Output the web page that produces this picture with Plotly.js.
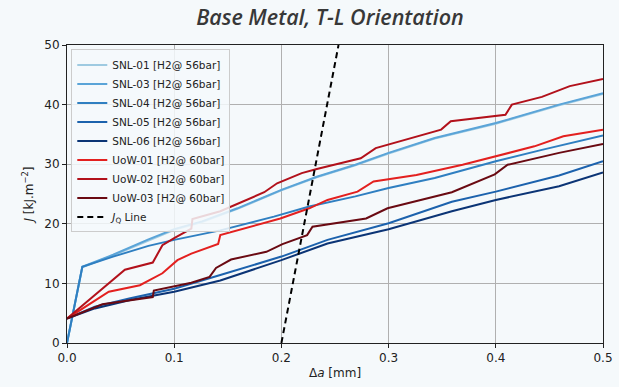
<!DOCTYPE html>
<html>
<head>
<meta charset="utf-8">
<script src="https://cdn.plot.ly/plotly-3.0.1.min.js"></script>
<style>html,body{margin:0;padding:0;background:#f5f9fb;}#chart{width:619px;height:387px;}</style>
</head>
<body>
<div id="chart"></div>
<script>
// Series data (Δa [mm], J [kJ/m^2])
const seriesNames = ["SNL-01 [H2@ 56bar]","SNL-03 [H2@ 56bar]","SNL-04 [H2@ 56bar]","SNL-05 [H2@ 56bar]","SNL-06 [H2@ 56bar]","UoW-01 [H2@ 60bar]","UoW-02 [H2@ 60bar]","UoW-03 [H2@ 60bar]"];
const seriesColors = ["#9ecae1","#5aa4d8","#2f7fc1","#1c62ad","#0b3475","#e3201f","#b2111b","#6a0a12"];

const snl01X = [0.0, 0.0143, 0.043, 0.076, 0.1, 0.126, 0.159, 0.2, 0.233, 0.269, 0.3, 0.343, 0.4, 0.459, 0.5];
const snl01Y = [0.0, 12.7, 14.7, 17.2, 19.0, 20.3, 22.5, 25.6, 27.8, 29.8, 31.8, 34.3, 36.8, 39.9, 41.8];
const snl03X = [0.0, 0.0143, 0.043, 0.076, 0.1, 0.126, 0.159, 0.2, 0.233, 0.269, 0.3, 0.343, 0.4, 0.459, 0.5];
const snl03Y = [0.0, 12.8, 14.8, 17.4, 19.1, 20.4, 22.6, 25.7, 27.9, 29.9, 31.9, 34.4, 36.9, 40.0, 41.9];
const snl04X = [0.0, 0.0143, 0.043, 0.076, 0.1, 0.143, 0.193, 0.226, 0.269, 0.3, 0.343, 0.4, 0.443, 0.5];
const snl04Y = [0.0, 12.8, 14.5, 16.3, 17.3, 18.9, 21.2, 22.9, 24.6, 26.0, 27.7, 30.5, 32.4, 34.8];
const snl05X = [0.0, 0.026, 0.059, 0.1, 0.143, 0.2, 0.243, 0.3, 0.359, 0.4, 0.459, 0.5];
const snl05Y = [4.1, 6.1, 7.5, 9.1, 11.4, 14.5, 17.3, 20.1, 23.7, 25.4, 28.1, 30.5];
const snl06X = [0.0, 0.026, 0.059, 0.1, 0.143, 0.2, 0.243, 0.3, 0.359, 0.4, 0.459, 0.5];
const snl06Y = [4.1, 5.8, 7.2, 8.6, 10.5, 13.9, 16.7, 19.1, 22.1, 24.0, 26.3, 28.6];
const uow01X = [0.0, 0.039, 0.068, 0.089, 0.103, 0.116, 0.141, 0.143, 0.199, 0.226, 0.243, 0.271, 0.286, 0.326, 0.369, 0.399, 0.436, 0.463, 0.5];
const uow01Y = [4.1, 8.6, 9.7, 11.7, 13.9, 15.0, 16.6, 18.1, 20.9, 22.6, 24.0, 25.4, 27.1, 28.2, 29.9, 31.3, 33.0, 34.7, 35.8];
const uow02X = [0.0, 0.054, 0.08, 0.089, 0.1, 0.116, 0.117, 0.143, 0.184, 0.196, 0.219, 0.233, 0.274, 0.288, 0.349, 0.358, 0.409, 0.415, 0.443, 0.469, 0.5];
const uow02Y = [4.1, 12.3, 13.5, 16.4, 17.6, 19.2, 20.8, 22.1, 25.3, 26.8, 28.5, 29.2, 31.0, 32.7, 35.8, 37.2, 38.3, 40.0, 41.3, 43.1, 44.3];
const uow03X = [0.0, 0.033, 0.08, 0.081, 0.116, 0.133, 0.139, 0.153, 0.186, 0.201, 0.224, 0.229, 0.279, 0.299, 0.359, 0.399, 0.411, 0.459, 0.5];
const uow03Y = [4.1, 6.5, 7.7, 8.8, 10.1, 11.1, 12.6, 14.0, 15.3, 16.6, 18.1, 19.5, 20.9, 22.6, 25.3, 28.3, 29.9, 31.9, 33.4];
const jqX = [0.2, 0.2533];
const jqY = [0, 50];

const xs = [snl01X, snl03X, snl04X, snl05X, snl06X, uow01X, uow02X, uow03X];
const ys = [snl01Y, snl03Y, snl04Y, snl05Y, snl06Y, uow01Y, uow02Y, uow03Y];

const traces = xs.map((x, i) => ({
  x: x, y: ys[i], type: 'scatter', mode: 'lines', name: seriesNames[i],
  line: {color: seriesColors[i], width: 2}
}));
traces.push({x: jqX, y: jqY, type: 'scatter', mode: 'lines', name: '<i>J</i><sub>Q</sub> Line',
  line: {color: '#000000', width: 2, dash: '6px,4px'}});

const tickFont = {family: 'DejaVu Sans', size: 12, color: '#222'};
const layout = {
  width: 619, height: 387,
  paper_bgcolor: '#f5f9fb', plot_bgcolor: '#f5f9fb',
  margin: {l: 67, r: 16, t: 45, b: 44},
  title: {text: '<i>Base Metal, T-L Orientation</i>', x: 0.533, xanchor: 'center', y: 0.955, yanchor: 'middle',
    font: {family: 'Open Sans', size: 21.5, weight: 600, color: '#383838'}},
  showlegend: true,
  legend: {x: 0.008, y: 0.985, xanchor: 'left', yanchor: 'top', bgcolor: 'rgba(245,249,251,0.85)',
    bordercolor: '#cccccc', borderwidth: 1, font: {family: 'DejaVu Sans', size: 10.5, color: '#222'},
    tracegroupgap: 0, itemwidth: 30},
  xaxis: {range: [0, 0.5], dtick: 0.1, tickformat: '.1f', showgrid: true, gridcolor: '#b0b0b0', gridwidth: 1,
    showline: true, linecolor: '#222', linewidth: 1, mirror: true, ticks: 'outside', ticklen: 4, tickcolor: '#222',
    zeroline: false, tickfont: tickFont,
    title: {text: 'Δ<i>a</i> [mm]', font: {family: 'DejaVu Sans', size: 12, color: '#222'}, standoff: 4}},
  yaxis: {range: [0, 50], dtick: 10, showgrid: true, gridcolor: '#b0b0b0', gridwidth: 1,
    showline: true, linecolor: '#222', linewidth: 1, mirror: true, ticks: 'outside', ticklen: 4, tickcolor: '#222',
    zeroline: false, tickfont: tickFont,
    title: {text: '<i>J</i> [kJ.m<sup>−2</sup>]', font: {family: 'DejaVu Sans', size: 12, color: '#222'}, standoff: 8}}
};
Plotly.newPlot('chart', traces, layout, {displayModeBar: false, staticPlot: true});
</script>
</body>
</html>
